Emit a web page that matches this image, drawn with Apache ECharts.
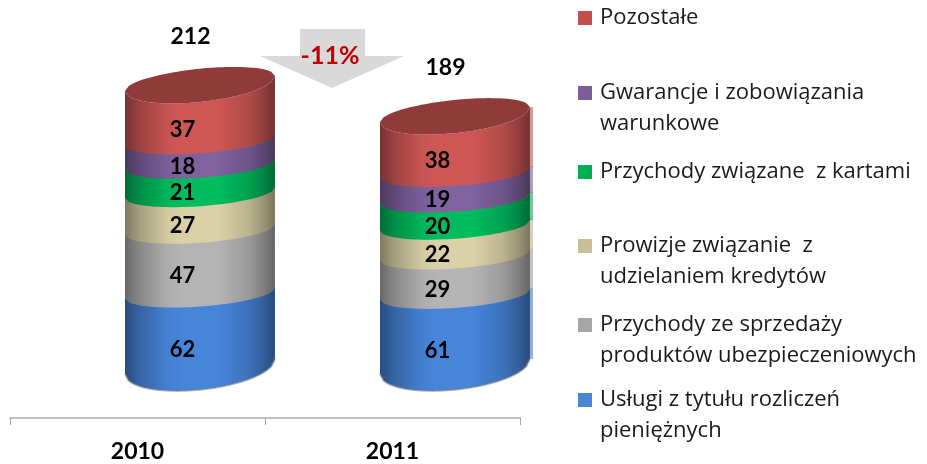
<!DOCTYPE html>
<html><head><meta charset="utf-8">
<style>html,body{margin:0;padding:0;background:#fff}#c{width:927px;height:464px}</style>
<script src="https://cdn.jsdelivr.net/npm/echarts@6/dist/echarts.min.js"></script>
</head><body><div id="c"></div>
<script>
const years = ['2010','2011'];
const totals = [212,189];
const uslugi = [62,61];
const ubezp = [47,29];
const prowizje = [27,22];
const karty = [21,20];
const gwarancje = [18,19];
const pozostale = [37,38];
const seriesNames = ['Usługi z tytułu rozliczeń\npieniężnych','Przychody ze sprzedaży\nproduktów ubezpieczeniowych','Prowizje związanie  z\nudzielaniem kredytów','Przychody związane  z kartami','Gwarancje i zobowiązania\nwarunkowe','Pozostałe'];
const seriesValues = [uslugi,ubezp,prowizje,karty,gwarancje,pozostale];
const legendColors = ['#4A86D4','#A6A6A6','#C9BF96','#00B050','#7A5F98','#C0504D'];
const bodyColors = ['#4785D9','#B4B4B4','#DBD1A8','#00BC5E','#80629F','#CE5755'];
const capColor = '#8F3B39';
const changeLabel = '-11%';

const FONT = 'Lato';
const LEGEND_FONT = '"Open Sans"';
function shade(hex,f){const n=parseInt(hex.slice(1),16);
  const c=[n>>16,(n>>8)&255,n&255].map(v=>Math.round(v*f));return `rgb(${c.join(',')})`;}
function curve(cx,hw,front,sag,k,dir){
  const pts=[],sk=k*hw,s=Math.sqrt(Math.max(sag*sag-sk*sk,1)),c=front;
  for(let i=0;i<=40;i++){const u=-1+i/20;
    pts.push([cx+u*hw,c+dir*s*Math.sqrt(1-u*u)-sk*u]);}
  return pts;
}
function levelGeom(y,kind){
  if(kind==='bottom') return {c:y-24.5,sag:24.5,k:0.1};
  if(kind==='top') return {c:y-20,sag:20,k:0.1};
  return {c:y-14.5,sag:14.5,k:0.07};
}
function makeRender(si){
  return function(params,api){
    const cat=api.value(0), start=api.value(1), end=api.value(2), val=api.value(3);
    const band=api.size([1,0])[0];
    const pBase=api.coord([cat,start]), pTop=api.coord([cat,end]);
    const cx=pBase[0]+band*0.245, hw=band*0.294, lx=pBase[0]+band*0.1765;
    const lo=levelGeom(pBase[1],si===0?'bottom':'mid');
    const hi=levelGeom(pTop[1],si===seriesNames.length-1?'top':'mid');
    const topArc=curve(cx,hw,hi.c,hi.sag,hi.k,1);
    const rawBot=curve(cx,hw,lo.c+(si===0?0:0.7),lo.sag,lo.k,1);
    const botArc=rawBot.slice().reverse();
    const col=bodyColors[si];
    const fill=new echarts.graphic.LinearGradient(0,0,1,0,[
      {offset:0,color:shade(col,0.58)},{offset:0.1,color:shade(col,0.76)},
      {offset:0.28,color:shade(col,0.96)},{offset:0.38,color:shade(col,1)},
      {offset:0.62,color:shade(col,1)},{offset:0.82,color:shade(col,0.86)},
      {offset:0.93,color:shade(col,0.7)},{offset:1,color:shade(col,0.56)}]);
    const kids=[];
    if(cat===1){ // pale strip on the right flank of the second cylinder
      const yT=topArc[topArc.length-1][1], yB=rawBot[rawBot.length-1][1];
      kids.push({type:'rect',shape:{x:cx+hw,y:yT,width:3,height:yB-yT},
        style:{fill:shade(col,0.8),opacity:0.55}});
    }
    kids.push({type:'polygon',shape:{points:topArc.concat(botArc)},style:{fill}});
    if(si===0){
      kids.push({type:'polyline',shape:{points:rawBot},style:{fill:'none',stroke:'rgba(110,120,140,0.55)',lineWidth:2}});
    }
    if(si===seriesNames.length-1){
      const back=curve(cx,hw,hi.c,16.5,hi.k,-1).reverse();
      kids.push({type:'polygon',shape:{points:topArc.concat(back)},style:{fill:capColor}});
      kids.push({type:'text',x:pBase[0]+band*0.208,y:pTop[1]-67,
        style:{text:String(totals[cat]),fill:'#000',font:'bold 23px '+FONT,align:'center',verticalAlign:'middle'}});
    }
    const mid=api.coord([cat,(start+end)/2]);
    kids.push({type:'text',x:lx,y:mid[1]+1,z2:10,
      style:{text:String(val),fill:'#000',font:'bold 22px '+FONT,align:'center',verticalAlign:'middle'}});
    return {type:'group',children:kids};
  };
}
const series=seriesNames.map((name,si)=>({
  name,type:'custom',renderItem:makeRender(si),z:2+si,
  itemStyle:{color:legendColors[si]},
  encode:{x:0,y:[1,2]},
  data:years.map((_,ci)=>{
    let s=0;for(let j=0;j<si;j++)s+=seriesValues[j][ci];
    return [ci,s,s+seriesValues[si][ci],seriesValues[si][ci]];
  })
}));
const legendTops=[384.5,309.5,230.5,156.5,77.5,2.5];
const legends=seriesNames.map((name,i)=>{
  const two=name.includes('\n');
  return {left:578,top:legendTops[i],padding:0,data:[name],selectedMode:false,orient:'vertical',
    itemWidth:17,itemHeight:two?45:14,
    icon:two?'path://M0 0H14V14H0Z M17 45L17 44.99Z':'path://M0 0H14V14H0Z M17 14L17 13.99Z',
    textStyle:{fontFamily:LEGEND_FONT,fontSize:22,lineHeight:31,color:'#1a1a1a'}};
});
const chart=echarts.init(document.getElementById('c'),null,{renderer:'canvas'});
chart.setOption({
  animation:false,
  grid:{left:10,right:407,top:18,bottom:46,containLabel:false},
  legend:legends,
  xAxis:{type:'category',data:years,boundaryGap:true,
    axisLine:{show:true,onZero:false,lineStyle:{color:'#BFBFBF',width:2}},
    axisTick:{show:true,alignWithLabel:false,length:7,lineStyle:{color:'#A6A6A6',width:1}},
    axisLabel:{color:'#000',fontFamily:FONT,fontWeight:'bold',fontSize:23,margin:22}},
  yAxis:{type:'value',min:-20,max:275,show:false,splitLine:{show:false}},
  series,
  graphic:[
    {type:'polygon',z:1,shape:{points:[[300,29],[365,29],[365,56],[404,56],[332,88],[260,56],[300,56]]},style:{fill:'#D9D9D9'}},
    {type:'text',z:20,x:330,y:56,style:{text:changeLabel,fill:'#C00000',font:'bold 25px '+FONT,align:'center',verticalAlign:'middle'}}
  ]
});
</script></body></html>
